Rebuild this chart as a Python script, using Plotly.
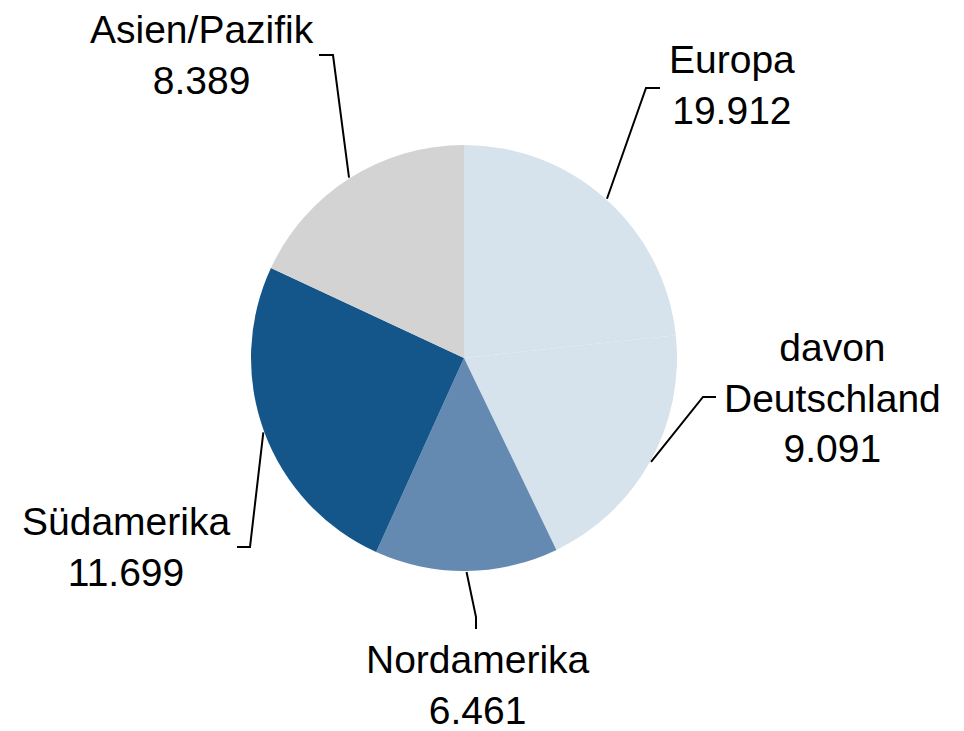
import math
import plotly.graph_objects as go

# ---- data ----
regions = ["Europa", "davon Deutschland", "Nordamerika", "Südamerika", "Asien/Pazifik"]
europa_total = 19.912
deutschland = 9.091
nordamerika = 6.461
suedamerika = 11.699
asien_pazifik = 8.389

label_values = [europa_total, deutschland, nordamerika, suedamerika, asien_pazifik]
slice_values = [europa_total - deutschland, deutschland, nordamerika, suedamerika, asien_pazifik]
label_names = ["Europa", "davon<br>Deutschland", "Nordamerika", "Südamerika", "Asien/Pazifik"]

colors = ["#D6E2EC", "#D6E2EC", "#648AB1", "#14558A", "#D3D3D3"]

# ---- layout geometry (pixels in the screenshot) ----
W, H = 964, 731
OFF = 8  # page body margin
cx, cy, R = 464, 358, 213
font = dict(family="Liberation Sans, Arial, sans-serif", size=39, color="#000000")

# label block centres and leader-line elbows / tails (pixel positions)
label_pos = [(732, 85), (832, 398), (478, 685), (126, 547), (202, 55)]
elbows = [(646, 88), (703, 397), (476, 617), (250, 547), (333, 55)]
tails = [(660, 88), (716, 397), (476, 629), (237, 547), (319, 55)]


def px(x):
    return (x - OFF) / W


def py(y):
    return 1 - (y - OFF) / H


fig = go.Figure(
    go.Pie(
        labels=regions,
        values=slice_values,
        sort=False,
        direction="clockwise",
        rotation=0,
        marker=dict(colors=colors, line=dict(width=0)),
        textinfo="none",
        hoverinfo="label+value",
        showlegend=False,
        domain=dict(x=[px(cx - R), px(cx + R)], y=[py(cy + R), py(cy - R)]),
    )
)

total = sum(slice_values)
cum = 0.0
shapes = []
annotations = []
for i, v in enumerate(slice_values):
    mid = (cum + v / 2) / total * 2 * math.pi
    cum += v
    sx = cx + (R + 1) * math.sin(mid)
    sy = cy - (R + 1) * math.cos(mid)
    ex, ey = elbows[i]
    tx, ty = tails[i]
    path = f"M {px(sx)},{py(sy)} L {px(ex)},{py(ey)} L {px(tx)},{py(ty)}"
    shapes.append(dict(type="path", xref="paper", yref="paper", path=path,
                       line=dict(color="#000000", width=2)))
    lx, ly = label_pos[i]
    annotations.append(dict(
        x=px(lx), y=py(ly), xref="paper", yref="paper",
        text=f"{label_names[i]}<br>{label_values[i]:.3f}",
        showarrow=False, xanchor="center", yanchor="middle",
        align="center", font=font,
    ))

fig.update_layout(
    width=W, height=H,
    margin=dict(l=0, r=0, t=0, b=0),
    paper_bgcolor="#FFFFFF",
    plot_bgcolor="#FFFFFF",
    shapes=shapes,
    annotations=annotations,
    font=font,
)

fig.write_html("out.html")
